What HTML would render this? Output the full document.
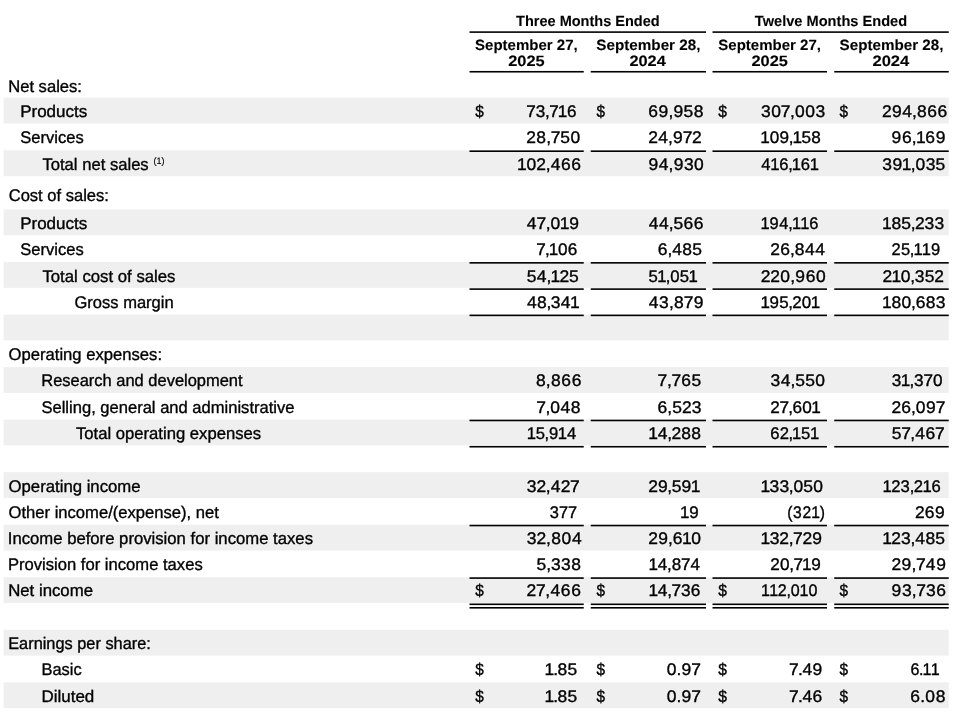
<!DOCTYPE html>
<html lang="en">
<head>
<meta charset="utf-8">
<title>Condensed Consolidated Statements of Operations</title>
<style>
html,body{margin:0;padding:0;background:#fff;}
body{width:960px;height:717px;overflow:hidden;}
svg{display:block;filter:blur(0.4px);}
text{font-family:"Liberation Sans",sans-serif;font-size:16.8px;fill:#000;white-space:pre;text-rendering:geometricPrecision;stroke:#000;stroke-width:0.35px;}
text.b{font-weight:bold;font-size:14.9px;stroke-width:0.1px;}
</style>
</head>
<body>
<svg width="960" height="717" viewBox="0 0 960 717">
<rect x="3.60" y="97.70" width="945.15" height="25.85" fill="#efefef"/>
<rect x="3.60" y="150.35" width="945.15" height="25.85" fill="#efefef"/>
<rect x="3.60" y="209.45" width="945.15" height="25.85" fill="#efefef"/>
<rect x="3.60" y="261.99" width="945.15" height="25.85" fill="#efefef"/>
<rect x="3.60" y="314.53" width="945.15" height="25.85" fill="#efefef"/>
<rect x="3.60" y="367.07" width="945.15" height="25.85" fill="#efefef"/>
<rect x="3.60" y="419.61" width="945.15" height="25.85" fill="#efefef"/>
<rect x="3.60" y="472.15" width="945.15" height="25.85" fill="#efefef"/>
<rect x="3.60" y="524.69" width="945.15" height="25.85" fill="#efefef"/>
<rect x="3.60" y="577.23" width="945.15" height="25.85" fill="#efefef"/>
<rect x="3.60" y="629.77" width="945.15" height="25.85" fill="#efefef"/>
<rect x="3.60" y="682.31" width="945.15" height="25.85" fill="#efefef"/>
<text transform="translate(8.19 92.00) scale(0.9884 1)">Net sales:</text>
<text transform="translate(20.15 117.00) scale(1.0138 1)">Products</text>
<text transform="translate(20.30 143.00) scale(0.9865 1)">Services</text>
<text transform="translate(42.43 170.00) scale(0.9905 1)">Total net sales</text>
<text transform="translate(8.71 201.00) scale(0.9855 1)">Cost of sales:</text>
<text transform="translate(20.15 229.00) scale(1.0138 1)">Products</text>
<text transform="translate(20.30 255.00) scale(0.9865 1)">Services</text>
<text transform="translate(42.42 282.00) scale(0.9974 1)">Total cost of sales</text>
<text transform="translate(74.47 308.00) scale(0.9849 1)">Gross margin</text>
<text transform="translate(8.51 360.00) scale(0.9915 1)">Operating expenses:</text>
<text transform="translate(41.25 386.00) scale(0.9811 1)">Research and development</text>
<text transform="translate(41.45 413.00) scale(0.9863 1)">Selling, general and administrative</text>
<text transform="translate(75.93 439.00) scale(0.9924 1)">Total operating expenses</text>
<text transform="translate(8.51 492.00) scale(0.9972 1)">Operating income</text>
<text transform="translate(8.51 518.00) scale(0.9892 1)">Other income/(expense), net</text>
<text transform="translate(7.76 544.00) scale(0.9946 1)">Income before provision for income taxes</text>
<text transform="translate(7.94 570.00) scale(0.9896 1)">Provision for income taxes</text>
<text transform="translate(8.17 596.40) scale(0.9989 1)">Net income</text>
<text transform="translate(8.21 649.00) scale(0.9739 1)">Earnings per share:</text>
<text transform="translate(41.45 675.00) scale(0.9794 1)">Basic</text>
<text transform="translate(41.40 702.00) scale(1.0124 1)">Diluted</text>
<text style="font-size:9.2px;stroke-width:0.15px" transform="translate(153.54 163.95) scale(0.9799 1)">(1)</text>
<text x="516.40 525.62 534.73 538.81 547.33 556.39" transform="translate(0 117.00) scale(1.01922 1)">73,716</text>
<text x="623.38 633.27 642.72 647.50 657.26 666.96" transform="translate(0 117.00) scale(1.04 1)">69,958</text>
<text x="731.76 741.49 750.80 759.69 764.44 774.31 784.04" transform="translate(0 117.00) scale(1.04 1)">307,003</text>
<text x="848.15 857.66 867.58 877.00 881.70 891.52 901.35" transform="translate(0 117.00) scale(1.04 1)">294,866</text>
<text x="506.08 515.66 525.21 529.52 538.79 548.62" transform="translate(0 143.00) scale(1.04 1)">28,750</text>
<text x="623.39 632.89 642.32 647.10 656.46 665.40" transform="translate(0 143.00) scale(1.04 1)">24,972</text>
<text x="744.42 753.47 763.13 772.19 775.79 784.73 794.26" transform="translate(0 143.00) scale(1.02145 1)">109,158</text>
<text x="857.34 867.30 876.78 880.72 889.76 899.72" transform="translate(0 143.00) scale(1.04 1)">96,169</text>
<text x="497.23 506.25 515.73 524.75 529.50 539.35 549.18" transform="translate(0 170.00) scale(1.04 1)">102,466</text>
<text x="623.44 633.42 642.92 647.80 657.61 667.37" transform="translate(0 170.00) scale(1.04 1)">94,930</text>
<text x="770.24 779.31 788.42 797.47 801.10 810.21 819.16" transform="translate(0 170.00) scale(0.988417 1)">416,161</text>
<text x="848.35 858.08 867.11 875.68 880.38 890.08 899.63" transform="translate(0 170.00) scale(1.04 1)">391,035</text>
<text x="506.54 515.84 524.65 529.31 538.27 547.32" transform="translate(0 229.00) scale(1.04 1)">47,019</text>
<text x="623.85 633.71 643.06 647.57 657.21 666.97" transform="translate(0 229.00) scale(1.04 1)">44,566</text>
<text x="777.80 787.06 797.04 806.29 809.99 818.46 827.65" transform="translate(0 229.00) scale(0.977688 1)">194,116</text>
<text x="848.19 857.14 866.67 875.69 879.82 889.04 898.46" transform="translate(0 229.00) scale(1.04 1)">185,233</text>
<text x="525.14 533.76 537.34 546.38 555.98" transform="translate(0 255.00) scale(1.02129 1)">7,106</text>
<text x="632.51 641.75 646.38 656.14 665.74" transform="translate(0 255.00) scale(1.04 1)">6,485</text>
<text x="740.69 750.14 759.51 764.20 774.05 783.94" transform="translate(0 255.00) scale(1.04 1)">26,844</text>
<text x="906.87 916.33 925.41 929.12 937.57 946.82" transform="translate(0 255.00) scale(0.983185 1)">25,119</text>
<text x="506.49 516.18 525.51 529.29 537.94 547.23" transform="translate(0 282.00) scale(1.04 1)">54,125</text>
<text x="651.73 660.59 669.08 673.49 683.15 692.02" transform="translate(0 282.00) scale(0.99509 1)">51,051</text>
<text x="731.56 740.74 750.30 759.82 764.73 774.73 784.68" transform="translate(0 282.00) scale(1.04 1)">220,960</text>
<text x="849.25 857.79 866.77 875.95 880.33 889.77 899.00" transform="translate(0 282.00) scale(1.03923 1)">210,352</text>
<text x="506.78 516.40 525.40 529.65 539.21 548.06" transform="translate(0 308.00) scale(1.04 1)">48,341</text>
<text x="623.85 633.72 643.16 648.08 657.52 667.03" transform="translate(0 308.00) scale(1.04 1)">43,879</text>
<text x="752.42 761.48 771.03 779.94 783.98 793.33 802.22" transform="translate(0 308.00) scale(1.01061 1)">195,201</text>
<text x="848.19 857.14 866.82 876.00 880.46 890.11 899.66" transform="translate(0 308.00) scale(1.04 1)">180,683</text>
<text x="515.33 524.87 529.73 539.69 549.66" transform="translate(0 386.00) scale(1.04 1)">8,866</text>
<text x="632.26 641.30 645.67 655.13 665.02" transform="translate(0 386.00) scale(1.04 1)">7,765</text>
<text x="740.90 750.63 760.06 764.66 774.24 783.96" transform="translate(0 386.00) scale(1.04 1)">34,550</text>
<text x="872.21 881.04 889.56 894.00 903.16 912.47" transform="translate(0 386.00) scale(1.02246 1)">31,370</text>
<text x="515.68 524.46 529.08 538.90 548.69" transform="translate(0 413.00) scale(1.04 1)">7,048</text>
<text x="632.27 641.71 646.34 655.70 665.05" transform="translate(0 413.00) scale(1.04 1)">6,523</text>
<text x="752.74 761.61 770.18 774.43 784.01 792.84" transform="translate(0 413.00) scale(1.02338 1)">27,601</text>
<text x="857.28 866.69 876.00 880.64 890.47 899.77" transform="translate(0 413.00) scale(1.04 1)">26,097</text>
<text x="532.31 541.42 550.43 554.85 563.84 573.16" transform="translate(0 439.00) scale(0.989422 1)">15,914</text>
<text x="623.56 632.60 641.75 645.84 655.12 664.70" transform="translate(0 439.00) scale(1.03978 1)">14,288</text>
<text x="777.36 786.82 795.62 799.28 808.38 817.27" transform="translate(0 439.00) scale(0.990982 1)">62,151</text>
<text x="857.45 866.58 875.36 880.02 889.80 899.05" transform="translate(0 439.00) scale(1.04 1)">57,467</text>
<text x="506.52 515.86 524.89 529.65 539.15 548.09" transform="translate(0 492.00) scale(1.04 1)">32,427</text>
<text x="623.39 632.65 641.67 645.91 655.38 664.17" transform="translate(0 492.00) scale(1.04 1)">29,591</text>
<text x="731.17 740.03 749.44 758.44 762.90 772.44 781.99" transform="translate(0 492.00) scale(1.04 1)">133,050</text>
<text x="889.21 898.11 907.56 916.63 920.83 929.57 938.72" transform="translate(0 492.00) scale(0.992371 1)">123,216</text>
<text x="562.89 572.40 581.55" transform="translate(0 518.00) scale(0.976787 1)">377</text>
<text x="673.38 682.70" transform="translate(0 518.00) scale(1.00976 1)">19</text>
<text x="846.34 852.64 862.74 872.10 881.48" transform="translate(0 518.00) scale(0.930102 1)">(321)</text>
<text x="879.88 889.24 899.00" transform="translate(0 518.00) scale(1.04 1)">269</text>
<text x="506.52 515.95 525.11 529.97 539.92 549.90" transform="translate(0 544.00) scale(1.04 1)">32,804</text>
<text x="623.43 632.89 642.23 646.84 655.77 664.77" transform="translate(0 544.00) scale(1.04 1)">29,610</text>
<text x="731.17 740.05 749.38 758.42 762.60 771.54 781.07" transform="translate(0 544.00) scale(1.04 1)">132,729</text>
<text x="848.43 857.07 866.33 875.43 880.05 889.80 899.39" transform="translate(0 544.00) scale(1.04 1)">123,485</text>
<text x="515.87 525.20 529.84 539.44 549.18" transform="translate(0 570.00) scale(1.04 1)">5,338</text>
<text x="639.80 649.01 658.26 662.74 672.04 681.46" transform="translate(0 570.00) scale(1.01345 1)">14,874</text>
<text x="752.89 762.29 771.45 775.45 783.92 792.98" transform="translate(0 570.00) scale(1.02317 1)">20,719</text>
<text x="857.28 866.91 876.50 880.79 890.18 900.20" transform="translate(0 570.00) scale(1.04 1)">29,749</text>
<text x="506.32 515.34 524.33 529.22 539.21 549.18" transform="translate(0 596.40) scale(1.04 1)">27,466</text>
<text x="630.00 639.12 648.38 652.43 661.59 671.16" transform="translate(0 596.40) scale(1.02918 1)">14,736</text>
<text x="795.51 804.09 813.15 822.08 826.65 835.84 845.23" transform="translate(0 596.40) scale(0.956595 1)">112,010</text>
<text x="857.34 867.25 876.67 881.01 890.29 900.14" transform="translate(0 596.40) scale(1.04 1)">93,736</text>
<text x="525.29 533.58 537.80 547.26" transform="translate(0 675.00) scale(1.0368 1)">1.85</text>
<text x="641.12 650.50 655.26 664.67" transform="translate(0 675.00) scale(1.04 1)">0.97</text>
<text x="758.71 767.20 771.56 781.21" transform="translate(0 675.00) scale(1.04 1)">7.49</text>
<text x="949.76 958.79 962.39 970.93" transform="translate(0 675.00) scale(0.958542 1)">6.11</text>
<text x="525.29 533.58 537.80 547.26" transform="translate(0 702.00) scale(1.0368 1)">1.85</text>
<text x="641.12 650.50 655.26 664.67" transform="translate(0 702.00) scale(1.04 1)">0.97</text>
<text x="758.71 767.20 771.56 781.15" transform="translate(0 702.00) scale(1.04 1)">7.46</text>
<text x="875.30 884.80 889.62 899.66" transform="translate(0 702.00) scale(1.04 1)">6.08</text>
<text transform="translate(475.13 117.00) scale(0.9165 1)">$</text>
<text transform="translate(596.38 117.00) scale(0.9165 1)">$</text>
<text transform="translate(718.13 117.00) scale(0.9334 1)">$</text>
<text transform="translate(839.38 117.00) scale(0.9165 1)">$</text>
<text transform="translate(475.13 596.40) scale(0.9165 1)">$</text>
<text transform="translate(596.38 596.40) scale(0.9165 1)">$</text>
<text transform="translate(718.13 596.40) scale(0.9334 1)">$</text>
<text transform="translate(839.38 596.40) scale(0.9165 1)">$</text>
<text transform="translate(475.13 675.00) scale(0.9165 1)">$</text>
<text transform="translate(596.38 675.00) scale(0.9165 1)">$</text>
<text transform="translate(718.13 675.00) scale(0.9334 1)">$</text>
<text transform="translate(839.38 675.00) scale(0.9165 1)">$</text>
<text transform="translate(475.13 702.00) scale(0.9165 1)">$</text>
<text transform="translate(596.38 702.00) scale(0.9165 1)">$</text>
<text transform="translate(718.13 702.00) scale(0.9334 1)">$</text>
<text transform="translate(839.38 702.00) scale(0.9165 1)">$</text>
<text class="b" transform="translate(516.09 26.25) scale(0.9747 1)">Three Months Ended</text>
<text class="b" transform="translate(754.84 26.25) scale(0.9808 1)">Twelve Months Ended</text>
<text class="b" transform="translate(475.07 50.00) scale(1.0081 1)">September 27,</text>
<text class="b" transform="translate(508.18 65.75) scale(1.1019 1)">2025</text>
<text class="b" transform="translate(596.31 50.00) scale(1.0230 1)">September 28,</text>
<text class="b" transform="translate(629.43 65.75) scale(1.0983 1)">2024</text>
<text class="b" transform="translate(718.32 50.00) scale(1.0081 1)">September 27,</text>
<text class="b" transform="translate(751.43 65.75) scale(1.1019 1)">2025</text>
<text class="b" transform="translate(839.56 50.00) scale(1.0205 1)">September 28,</text>
<text class="b" transform="translate(872.42 65.75) scale(1.1137 1)">2024</text>
<rect x="469.50" y="31.30" width="236.50" height="1.60" fill="#000"/>
<rect x="712.50" y="31.30" width="236.25" height="1.60" fill="#000"/>
<rect x="469.50" y="70.95" width="114.25" height="1.60" fill="#000"/>
<rect x="469.50" y="150.40" width="114.25" height="1.60" fill="#000"/>
<rect x="469.50" y="262.04" width="114.25" height="1.60" fill="#000"/>
<rect x="469.50" y="288.31" width="114.25" height="1.60" fill="#000"/>
<rect x="469.50" y="314.58" width="114.25" height="1.60" fill="#000"/>
<rect x="469.50" y="419.66" width="114.25" height="1.60" fill="#000"/>
<rect x="469.50" y="445.93" width="114.25" height="1.60" fill="#000"/>
<rect x="469.50" y="524.74" width="114.25" height="1.60" fill="#000"/>
<rect x="469.50" y="577.28" width="114.25" height="1.60" fill="#000"/>
<rect x="469.50" y="603.50" width="114.25" height="1.60" fill="#000"/>
<rect x="469.50" y="607.00" width="114.25" height="1.60" fill="#000"/>
<rect x="590.75" y="70.95" width="115.25" height="1.60" fill="#000"/>
<rect x="590.75" y="150.40" width="115.25" height="1.60" fill="#000"/>
<rect x="590.75" y="262.04" width="115.25" height="1.60" fill="#000"/>
<rect x="590.75" y="288.31" width="115.25" height="1.60" fill="#000"/>
<rect x="590.75" y="314.58" width="115.25" height="1.60" fill="#000"/>
<rect x="590.75" y="419.66" width="115.25" height="1.60" fill="#000"/>
<rect x="590.75" y="445.93" width="115.25" height="1.60" fill="#000"/>
<rect x="590.75" y="524.74" width="115.25" height="1.60" fill="#000"/>
<rect x="590.75" y="577.28" width="115.25" height="1.60" fill="#000"/>
<rect x="590.75" y="603.50" width="115.25" height="1.60" fill="#000"/>
<rect x="590.75" y="607.00" width="115.25" height="1.60" fill="#000"/>
<rect x="712.50" y="70.95" width="114.50" height="1.60" fill="#000"/>
<rect x="712.50" y="150.40" width="114.50" height="1.60" fill="#000"/>
<rect x="712.50" y="262.04" width="114.50" height="1.60" fill="#000"/>
<rect x="712.50" y="288.31" width="114.50" height="1.60" fill="#000"/>
<rect x="712.50" y="314.58" width="114.50" height="1.60" fill="#000"/>
<rect x="712.50" y="419.66" width="114.50" height="1.60" fill="#000"/>
<rect x="712.50" y="445.93" width="114.50" height="1.60" fill="#000"/>
<rect x="712.50" y="524.74" width="114.50" height="1.60" fill="#000"/>
<rect x="712.50" y="577.28" width="114.50" height="1.60" fill="#000"/>
<rect x="712.50" y="603.50" width="114.50" height="1.60" fill="#000"/>
<rect x="712.50" y="607.00" width="114.50" height="1.60" fill="#000"/>
<rect x="834.25" y="70.95" width="114.50" height="1.60" fill="#000"/>
<rect x="834.25" y="150.40" width="114.50" height="1.60" fill="#000"/>
<rect x="834.25" y="262.04" width="114.50" height="1.60" fill="#000"/>
<rect x="834.25" y="288.31" width="114.50" height="1.60" fill="#000"/>
<rect x="834.25" y="314.58" width="114.50" height="1.60" fill="#000"/>
<rect x="834.25" y="419.66" width="114.50" height="1.60" fill="#000"/>
<rect x="834.25" y="445.93" width="114.50" height="1.60" fill="#000"/>
<rect x="834.25" y="524.74" width="114.50" height="1.60" fill="#000"/>
<rect x="834.25" y="577.28" width="114.50" height="1.60" fill="#000"/>
<rect x="834.25" y="603.50" width="114.50" height="1.60" fill="#000"/>
<rect x="834.25" y="607.00" width="114.50" height="1.60" fill="#000"/>
</svg>
</body>
</html>
